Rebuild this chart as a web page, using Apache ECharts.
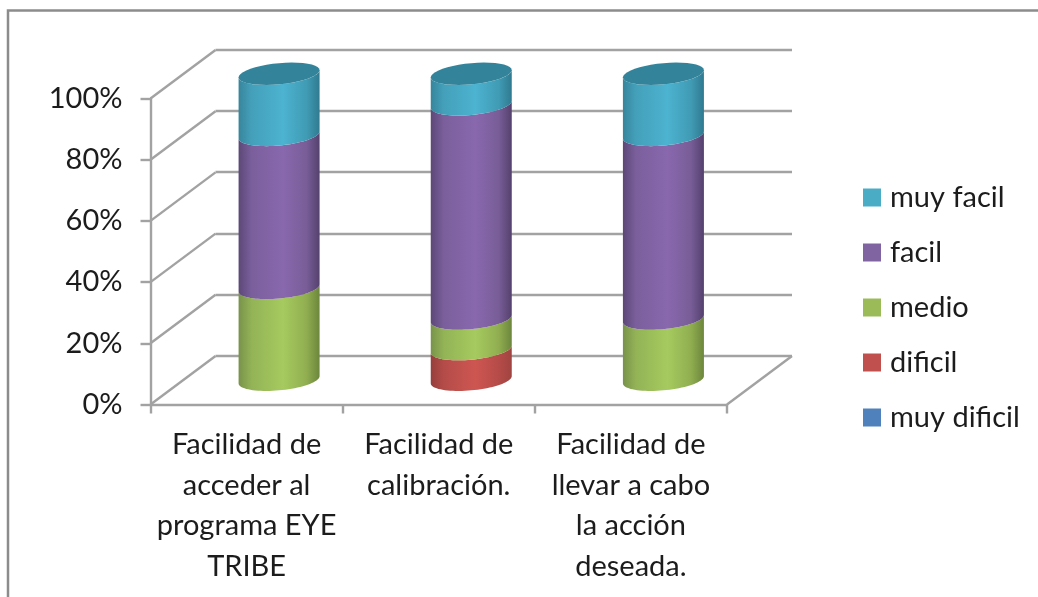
<!DOCTYPE html>
<html><head><meta charset="utf-8">
<style>html,body{margin:0;padding:0;background:#fff;overflow:hidden}#c{width:1038px;height:597px;filter:blur(0.45px)}</style>
<script src="https://cdn.jsdelivr.net/npm/echarts@6/dist/echarts.min.js"></script>
</head><body><div id="c"></div>
<script>
const categories = ["Facilidad de\nacceder al\nprograma EYE\nTRIBE", "Facilidad de\ncalibración.", "Facilidad de\nllevar a cabo\nla acción\ndeseada."];
const muyDificil = [0, 0, 0];
const dificil = [0, 10, 0];
const medio = [30, 10, 20];
const facil = [50, 70, 60];
const muyFacil = [20, 10, 20];
const yTicks = [0, 20, 40, 60, 80, 100];
const seriesNames = ["muy dificil", "dificil", "medio", "facil", "muy facil"];
const seriesValues = [muyDificil, dificil, medio, facil, muyFacil];
const legendColors = ["#4F81BD", "#C0504D", "#9BBB59", "#8064A2", "#4BACC6"];
const shades = [
  ["#38608f", "#4673a8", "#4F81BD", "#4470a3", "#3b6595"],
  ["#963e3c", "#b44c49", "#CE5651", "#b54b48", "#a04441"],
  ["#78934a", "#93b356", "#A6CA5F", "#90ae50", "#6c863c"],
  ["#5c4877", "#7a5f9c", "#8968AE", "#785d97", "#54416e"],
  ["#37859c", "#44a0ba", "#4CB3D0", "#409bb4", "#2f7a90"]
];
const topFace = "#33849b";
const FONT = "Lato, Carlito, sans-serif";
const LINE = "#a2a2a2";
const depth = {x: 65, y: -48.5};
const radius = {a: 40.5, b: 10.6, tilt: 3.6};

function ellipsePts(cx, cy, t0, t1) {
  const pts = [];
  const n = 40;
  for (let i = 0; i <= n; i++) {
    const t = t0 + (t1 - t0) * i / n;
    pts.push([cx + radius.a * Math.cos(t), cy + radius.b * Math.sin(t) - radius.tilt * Math.cos(t)]);
  }
  return pts;
}

function cylinderItem(idx) {
  return function (params, api) {
    const cat = api.value(0), lo = api.value(1), hi = api.value(2);
    if (hi <= lo) return null;
    const pLo = api.coord([cat, lo]), pHi = api.coord([cat, hi]);
    const cx = pLo[0] + depth.x / 2;
    const yLo = pLo[1] + depth.y / 2 - 0.5, yHi = pHi[1] + depth.y / 2 - 0.5;
    const front = ellipsePts(cx, yLo, 0, Math.PI);
    const upper = ellipsePts(cx, yHi, Math.PI, 0);
    const sh = shades[idx];
    const children = [{
      type: "polygon",
      shape: {points: upper.concat(front)},
      style: {fill: new echarts.graphic.LinearGradient(0, 0, 1, 0, [
        {offset: 0, color: sh[0]}, {offset: 0.16, color: sh[1]},
        {offset: 0.55, color: sh[2]}, {offset: 0.84, color: sh[3]},
        {offset: 1, color: sh[4]}]), stroke: null}
    }];
    if (Math.round(hi) === 100) {
      children.push({type: "polygon", shape: {points: ellipsePts(cx, yHi, 0, Math.PI * 2)}, style: {fill: topFace}});
    }
    return {type: "group", children};
  };
}

function wallItem(params, api) {
  const v = api.value(0);
  const lineStyle = {stroke: LINE, lineWidth: 2.4};
  const p = api.coord([0, v]);
  const left = params.coordSys.x;
  const children = [{type: "line", shape: {x1: left, y1: p[1], x2: left + depth.x, y2: p[1] + depth.y}, style: lineStyle}];
  if (v === 0) {
    const right = left + params.coordSys.width;
    children.push({type: "line", shape: {x1: right, y1: p[1], x2: right + depth.x, y2: p[1] + depth.y}, style: lineStyle});
  }
  return {type: "group", children};
}

const cylinderSeries = seriesNames.map((name, s) => ({
  name, type: "custom", xAxisIndex: 0, yAxisIndex: 0, clip: false, silent: true, z: 5,
  itemStyle: {color: legendColors[s]},
  encode: {x: 0, y: [1, 2]},
  renderItem: cylinderItem(s),
  data: categories.map((c, i) => {
    let below = 0;
    for (let k = 0; k < s; k++) below += seriesValues[k][i];
    return [i, below, below + seriesValues[s][i]];
  })
}));

const chart = echarts.init(document.getElementById("c"), null, {renderer: "canvas"});
chart.setOption({
  animation: false,
  backgroundColor: "#fff",
  graphic: [{type: "rect", shape: {x: 8, y: 10.5, width: 1100, height: 700}, style: {fill: "none", stroke: "#8c8c8c", lineWidth: 2.5}, z: 0}],
  grid: [
    {left: 150.5, right: 311, top: 98.5, bottom: 192.5},
    {left: 215.5, right: 246, top: 49.5, bottom: 241}
  ],
  xAxis: [
    {type: "category", gridIndex: 0, data: categories,
      axisLine: {show: true, lineStyle: {color: LINE, width: 2.4}},
      axisTick: {show: true, length: 9, alignWithLabel: false, lineStyle: {color: LINE, width: 2.4}},
      axisLabel: {interval: 0, fontFamily: FONT, fontSize: 29, color: "#1c1c1c", lineHeight: 40.5, margin: 20},
      splitLine: {show: false}},
    {type: "category", gridIndex: 1, data: categories, show: false}
  ],
  yAxis: [
    {type: "value", gridIndex: 0, min: 0, max: 100, interval: 20,
      axisLine: {show: true, lineStyle: {color: LINE, width: 2.4}},
      axisTick: {show: true, length: 10, lineStyle: {color: LINE, width: 2.4}},
      axisLabel: {formatter: "{value}%", fontFamily: FONT, fontSize: 29, color: "#1c1c1c", margin: 28, padding: [7, 0, 0, 0]},
      splitLine: {show: false}},
    {type: "value", gridIndex: 1, min: 0, max: 100, interval: 20,
      axisLine: {show: false}, axisTick: {show: false}, axisLabel: {show: false},
      splitLine: {show: true, lineStyle: {color: LINE, width: 2.4}}}
  ],
  legend: {
    orient: "vertical", left: 863, top: 182, padding: 0, itemWidth: 18, itemHeight: 18, itemGap: 24,
    icon: "rect", selectedMode: false,
    data: seriesNames.slice().reverse(),
    textStyle: {fontFamily: FONT, fontSize: 29, color: "#1c1c1c", lineHeight: 31, padding: [0, 0, 0, 4]}
  },
  series: [{
    type: "custom", silent: true, z: 1, clip: false, xAxisIndex: 0, yAxisIndex: 0,
    renderItem: wallItem, encode: {y: 0},
    data: yTicks.map(v => [v])
  }].concat(cylinderSeries)
});
</script></body></html>
